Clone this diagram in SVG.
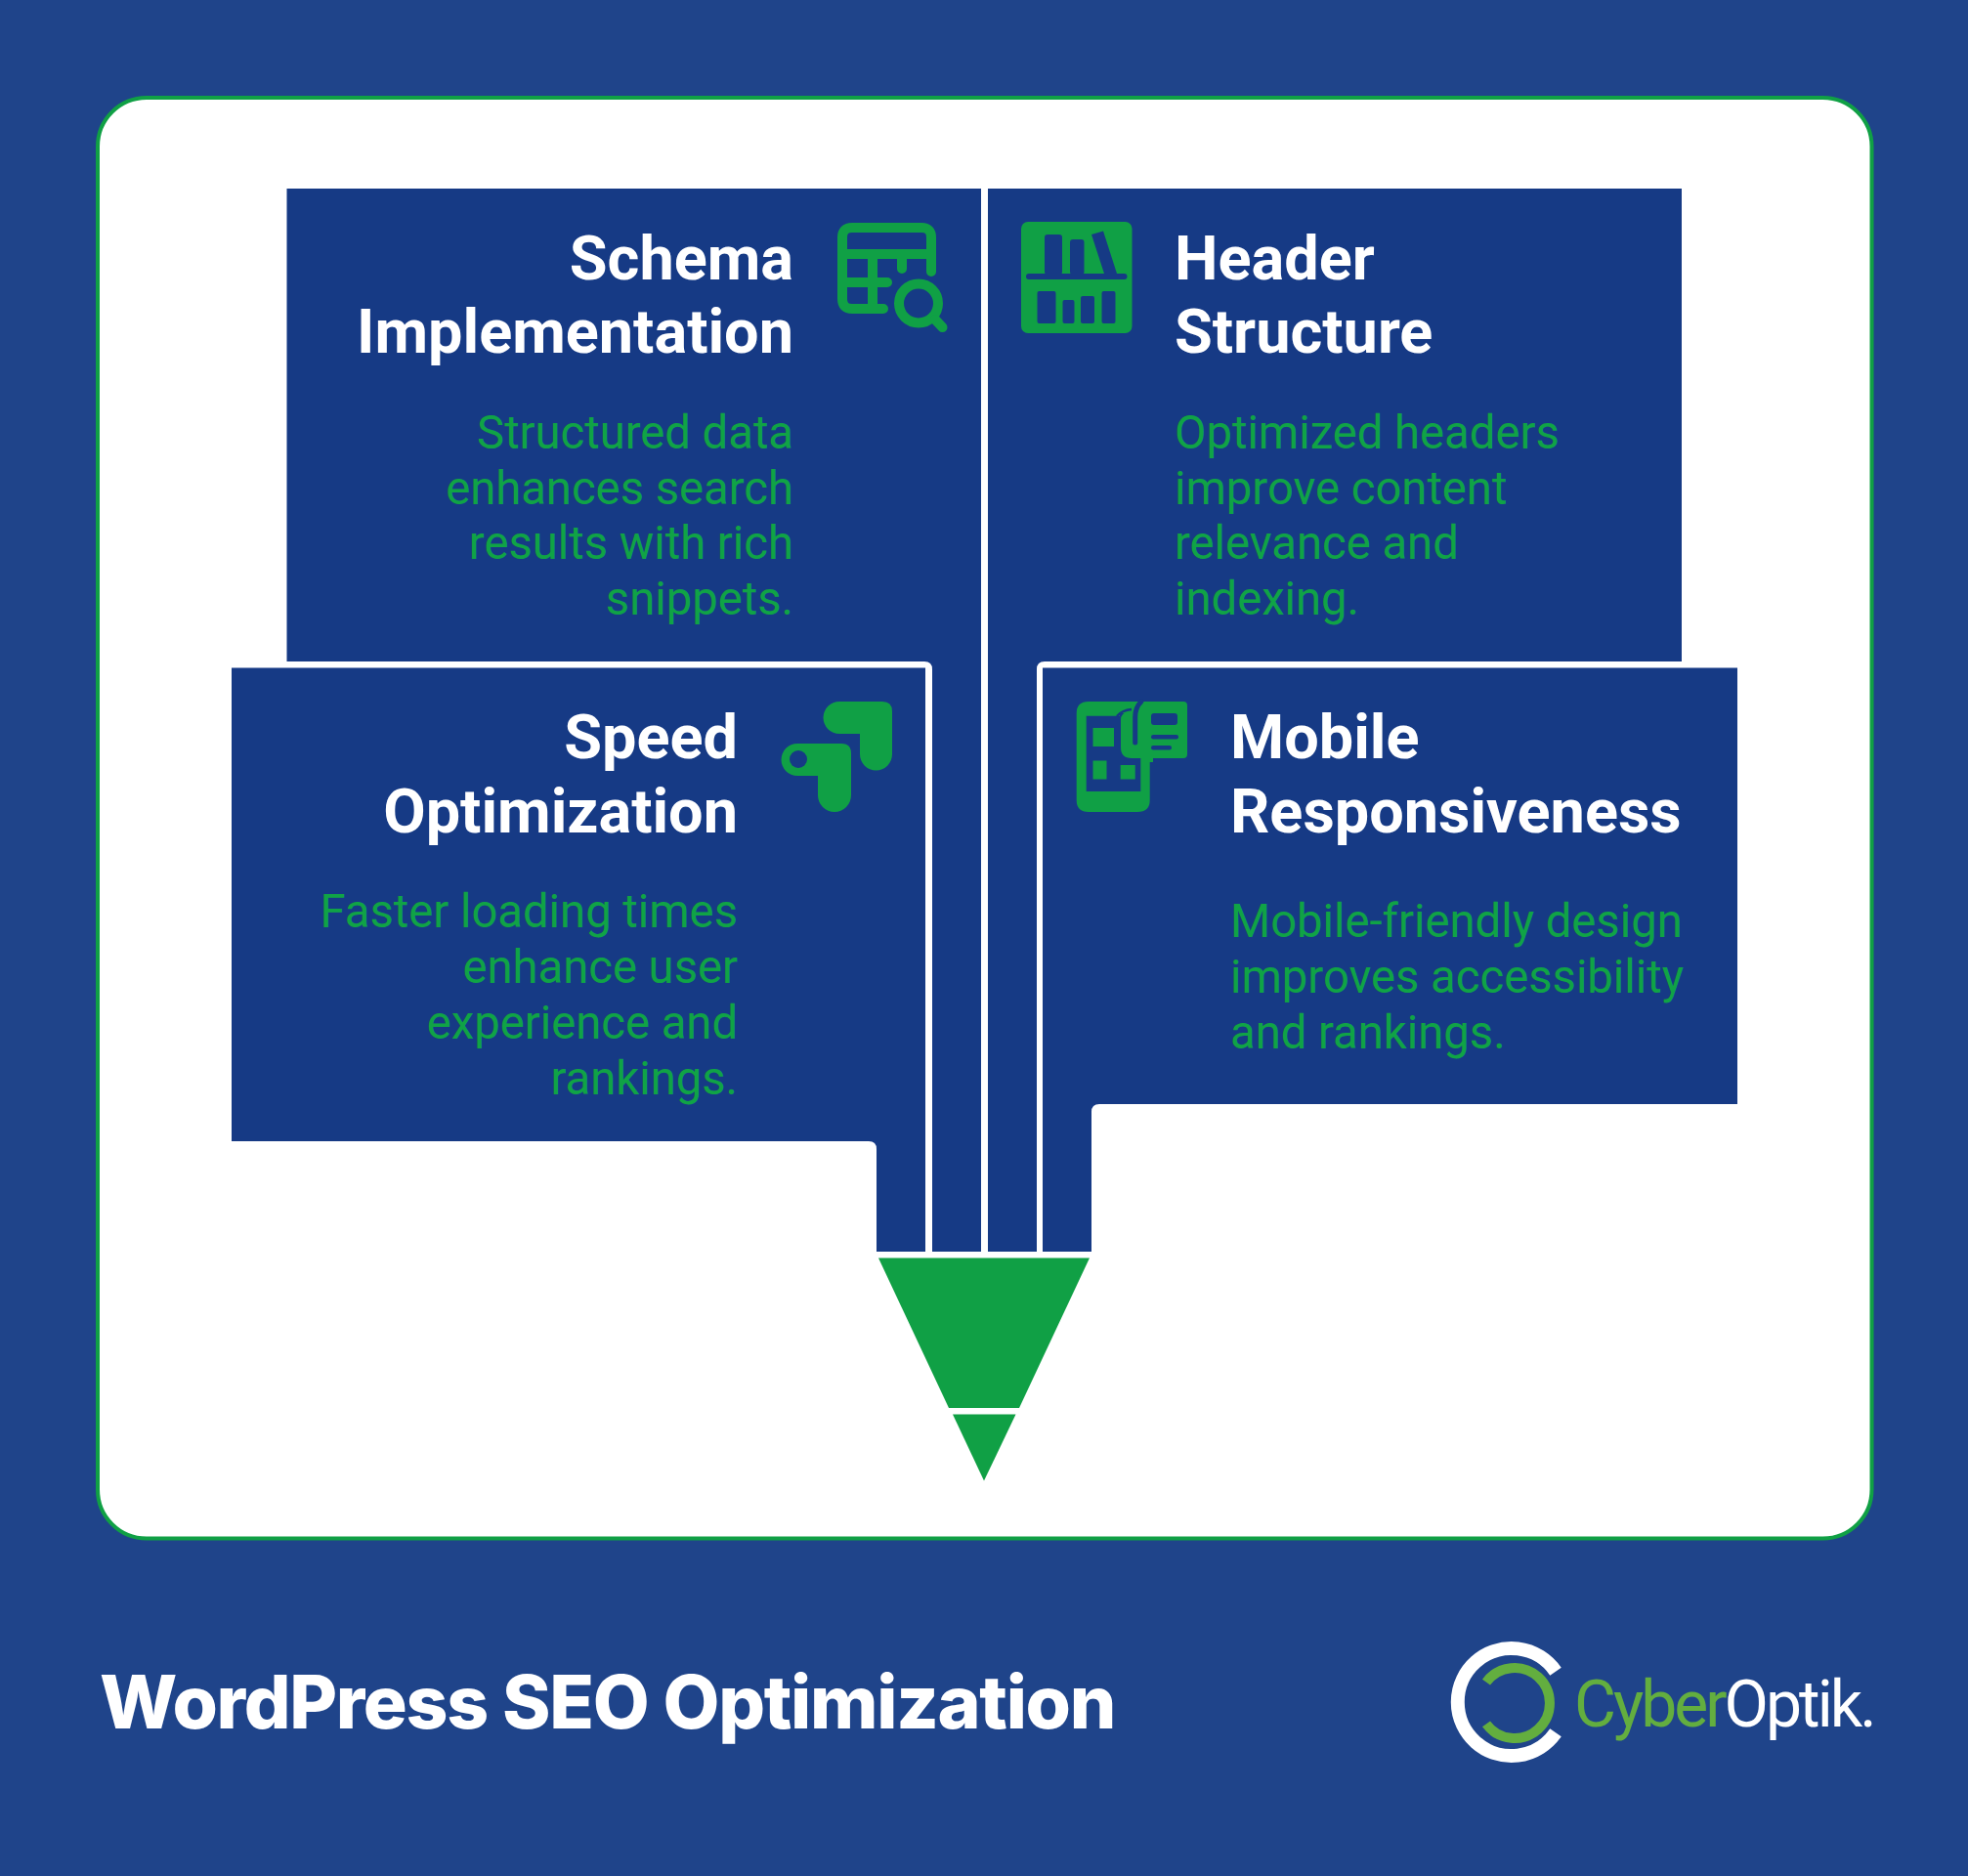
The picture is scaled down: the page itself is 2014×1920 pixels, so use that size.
<svg xmlns="http://www.w3.org/2000/svg" width="2014" height="1920" viewBox="0 0 2014 1920">
<style>
.box{fill:#163a85}
.h{font-family:Roboto,"Liberation Sans",sans-serif;font-weight:700;font-size:63px;fill:#fff}
.b{font-family:Roboto,"Liberation Sans",sans-serif;font-weight:400;font-size:47.200px;fill:#10a346}
.e{text-anchor:end}
.g{fill:#10a045}
.d{fill:#163a85}
.ol{fill:none;stroke:#10a045;stroke-width:10;stroke-linecap:round;stroke-linejoin:round}
.lg{font-family:Roboto,"Liberation Sans",sans-serif;font-weight:400;font-size:66px;letter-spacing:-3px}
</style>
<rect width="2014" height="1920" fill="#1f448a"/>
<rect id="card" x="100" y="100" width="1815.500" height="1474.500" rx="50" fill="#fff" stroke="#10a045" stroke-width="4"/>
<g id="connectors">
<polygon class="g" points="899,1287.500 1115,1287.500 1043,1441 971,1441"/>
<polygon class="g" points="975,1447.500 1039.500,1447.500 1007,1515.500"/>
</g>
<g id="schema">
<path class="box" d="M293.500 193H1004V1281H954V685Q954 677 946 677H293.500Z"/>
<text class="h e" x="812" y="286">Schema</text>
<text class="h e" x="812" y="361">Implementation</text>
<text class="b e" x="812" y="459">Structured data</text>
<text class="b e" x="812" y="516">enhances search</text>
<text class="b e" x="812" y="572">results with rich</text>
<text class="b e" x="812" y="629">snippets.</text>
<path class="ol" d="M953 278V243Q953 233 943 233H872Q862 233 862 243V306Q862 316 872 316H904M862 260H953M923 260V275M893 260V316M862 289H908"/>
<circle class="ol" cx="940" cy="310.500" r="20"/>
<path class="ol" d="M957 327L964.500 335"/>
</g>
<g id="header">
<path class="box" d="M1011 193H1721V677H1069Q1061 677 1061 685V1281H1011Z"/>
<text class="h" x="1202" y="286">Header</text>
<text class="h" x="1202" y="361">Structure</text>
<text class="b" x="1202" y="459">Optimized headers</text>
<text class="b" x="1202" y="516">improve content</text>
<text class="b" x="1202" y="572">relevance and</text>
<text class="b" x="1202" y="629">indexing.</text>
<rect class="g" x="1045" y="227" width="113.500" height="114" rx="7"/>
<rect class="d" x="1069" y="240" width="18" height="41" rx="3"/>
<rect class="d" x="1095" y="245" width="14.500" height="36" rx="3"/>
<polygon class="d" points="1117,240 1129,236.500 1143,280 1130,280"/>
<rect class="d" x="1050" y="280" width="103.500" height="6" rx="3"/>
<rect class="d" x="1061.500" y="298" width="19" height="33" rx="2"/>
<rect class="d" x="1087.500" y="307" width="12" height="24" rx="2"/>
<rect class="d" x="1106" y="303" width="14" height="28" rx="2"/>
<rect class="d" x="1127.500" y="298" width="14" height="33" rx="2"/>
</g>
<g id="speed">
<path class="box" d="M237 683.500H947V1281H897V1176Q897 1168 889 1168H237Z"/>
<text class="h e" x="755" y="776">Speed</text>
<text class="h e" x="755" y="852">Optimization</text>
<text class="b e" x="755" y="949">Faster loading times</text>
<text class="b e" x="755" y="1006">enhance user</text>
<text class="b e" x="755" y="1063">experience and</text>
<text class="b e" x="755" y="1120">rankings.</text>
<path class="g" d="M859 718H903Q913 718 913 728V772A16.500 16.500 0 0 1 880 772V751H859A16.500 16.500 0 0 1 859 718Z"/>
<path class="g" d="M816 761H861Q871 761 871 771V814A17 17 0 0 1 837 814V794H816A16.500 16.500 0 0 1 816 761Z"/>
<circle class="d" cx="817" cy="777" r="9"/>
</g>
<g id="mobile">
<path class="box" d="M1067 683.500H1778V1130H1125Q1117 1130 1117 1138V1281H1067Z"/>
<text class="h" x="1259" y="776">Mobile</text>
<text class="h" x="1259" y="852">Responsiveness</text>
<text class="b" x="1259" y="959">Mobile-friendly design</text>
<text class="b" x="1259" y="1016">improves accessibility</text>
<text class="b" x="1259" y="1073">and rankings.</text>
<path class="g" fill-rule="evenodd" d="M1114 718H1180V780H1176.700V819Q1176.700 831 1164 831H1114Q1101.700 831 1101.700 819V730Q1101.700 718 1114 718ZM1111.700 732.700V810H1167.300V732.700Z"/>
<rect class="g" x="1118.500" y="745" width="21.500" height="19"/>
<rect class="g" x="1118.500" y="778.500" width="14" height="19"/>
<rect class="g" x="1146.700" y="781.500" width="15" height="16"/>
<path class="d" d="M1146 730H1165V783H1146Z"/>
<path class="g" d="M1166 718H1211Q1215 718 1215 722V772Q1215 776 1211 776H1158Q1147 776 1147 765V737Q1147 729 1155 729H1166Z"/>
<path d="M1161.700 760V734Q1161.700 724 1168 718" fill="none" stroke="#163a85" stroke-width="5" stroke-linecap="round"/>
<path d="M1143 733Q1148 727 1158 726" fill="none" stroke="#163a85" stroke-width="2.500"/>
<rect class="d" x="1178" y="730" width="27" height="12" rx="3"/>
<rect class="d" x="1178" y="752" width="28" height="4.500" rx="2.200"/>
<rect class="d" x="1178" y="763" width="21" height="4.500" rx="2.200"/>
</g>
<text id="title" x="102" y="1769" font-family="Inter,Roboto,'Liberation Sans',sans-serif" font-weight="800" font-size="75" letter-spacing="-1.3" fill="#fff">WordPress SEO Optimization</text>
<g id="logo">
<path d="M1592 1710.700A55 55 0 1 0 1592 1773.300" fill="none" stroke="#fff" stroke-width="14"/>
<path d="M1521 1721.600A36 36 0 1 1 1521 1764.400" fill="none" stroke="#63ae3f" stroke-width="10"/>
<text class="lg" x="1611" y="1767"><tspan fill="#63ae3f">Cyber</tspan><tspan fill="#fff">Optik.</tspan></text>
</g>
</svg>
